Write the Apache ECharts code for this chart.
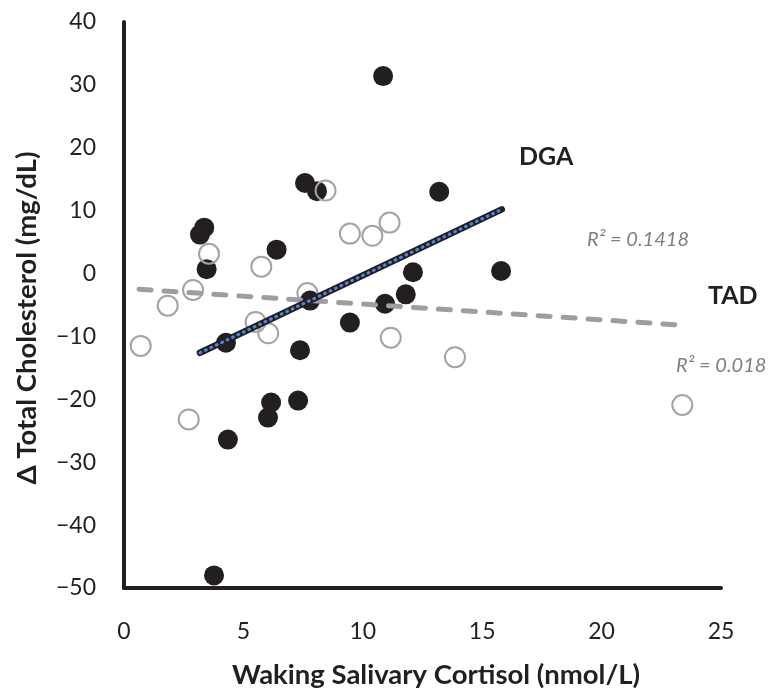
<!DOCTYPE html>
<html>
<head>
<meta charset="utf-8">
<script src="https://cdn.jsdelivr.net/npm/echarts@6/dist/echarts.min.js"></script>
<style>
    html, body { margin: 0; padding: 0; background: #fff; }
    #chart { width: 770px; height: 694px; }
</style>
</head>
<body>
<div id="chart"></div>
<script>
(function(window, echarts){
    'use strict';

    // DGA group (filled dots): [cortisol, delta cholesterol]
    var dgaPoints = [
        [10.85, 31.4], [7.58, 14.4], [8.08, 13.1], [13.2, 13.0],
        [3.36, 7.3], [3.18, 6.2], [6.39, 3.8], [3.46, 0.7],
        [12.1, 0.2], [15.79, 0.4], [11.8, -3.3], [10.93, -4.8],
        [7.79, -4.3], [9.46, -7.8], [4.27, -11.0], [7.37, -12.2],
        [6.16, -20.5], [7.29, -20.2], [6.03, -22.9], [4.35, -26.4],
        [3.77, -48.0]
    ];

    // TAD group (open circles)
    var tadPoints = [
        [0.7, -11.5], [1.83, -5.1], [2.89, -2.6], [2.71, -23.2],
        [3.56, 3.15], [5.51, -7.7], [5.75, 1.1], [6.04, -9.5],
        [7.68, -3.1], [8.44, 13.2], [9.46, 6.35], [10.4, 6.0],
        [11.12, 8.1], [11.17, -10.2], [13.86, -13.3], [23.38, -20.9]
    ];

    // linear trend line end points
    var dgaTrend = [[3.18, -12.6], [15.82, 10.2]];
    var tadTrend = [[0.63, -2.5], [23.35, -8.2]];

    var dgaR2 = 'R² = 0.1418';
    var tadR2 = 'R² = 0.018';

    var ink = '#231f20';
    var font = 'Lato';

    var chart = echarts.init(document.getElementById('chart'));

    chart.setOption({
        animation: false,
        backgroundColor: '#fff',
        grid: { left: 124, right: 49, top: 22, bottom: 106 },
        xAxis: {
            type: 'value', min: 0, max: 25, interval: 5,
            splitLine: { show: false },
            axisTick: { show: false },
            axisLine: { onZero: false, lineStyle: { color: ink, width: 4 } },
            axisLabel: { color: ink, fontSize: 23, fontFamily: font, margin: 32 }
        },
        yAxis: {
            type: 'value', min: -50, max: 40, interval: 10,
            splitLine: { show: false },
            axisTick: { show: false },
            axisLine: { show: true, onZero: false, lineStyle: { color: ink, width: 4 } },
            axisLabel: {
                color: ink, fontSize: 23, fontFamily: font, margin: 28,
                formatter: function(v) { return v < 0 ? '\u2212' + Math.abs(v) : String(v); }
            }
        },
        series: [
            {
                type: 'scatter', data: dgaPoints, symbolSize: 20,
                itemStyle: { color: ink, opacity: 1 }, z: 2
            },
            {
                type: 'scatter', data: tadPoints, symbolSize: 20,
                itemStyle: { color: 'rgba(0,0,0,0)', borderColor: '#a3a3a3', borderWidth: 2, opacity: 1 }, z: 3
            },
            {
                type: 'line', data: tadTrend, symbol: 'none', z: 4,
                lineStyle: { color: '#9d9ea0', width: 5, type: [12, 13], cap: 'round' }
            },
            {
                type: 'line', data: dgaTrend, symbol: 'none', z: 5,
                lineStyle: { color: ink, width: 6.5, cap: 'round' }
            },
            {
                type: 'line', data: dgaTrend, symbol: 'none', z: 6,
                lineStyle: { color: '#4f86e0', width: 3, type: [1, 5], cap: 'round' }
            }
        ],
        graphic: [
            {
                type: 'text', x: 519, y: 157,
                style: { text: 'DGA', font: 'bold 25px ' + font, fill: ink, verticalAlign: 'middle' }
            },
            {
                type: 'text', x: 708, y: 296,
                style: { text: 'TAD', font: 'bold 25px ' + font, fill: ink, verticalAlign: 'middle' }
            },
            {
                type: 'text', x: 587, y: 240,
                style: { text: dgaR2, font: 'italic 20px ' + font, fill: '#808080', verticalAlign: 'middle' }
            },
            {
                type: 'text', x: 676, y: 366,
                style: { text: tadR2, font: 'italic 20px ' + font, fill: '#808080', verticalAlign: 'middle' }
            },
            {
                type: 'text', x: 436, y: 675,
                style: { text: 'Waking Salivary Cortisol (nmol/L)', font: 'bold 27.5px ' + font, fill: ink, align: 'center', verticalAlign: 'middle' }
            },
            {
                type: 'text', x: 27, y: 318, rotation: Math.PI / 2,
                style: { text: '\u0394 Total Cholesterol (mg/dL)', font: 'bold 27.5px ' + font, fill: ink, align: 'center', verticalAlign: 'middle' }
            }
        ]
    });

})(window, window.echarts);
</script>
</body>
</html>
